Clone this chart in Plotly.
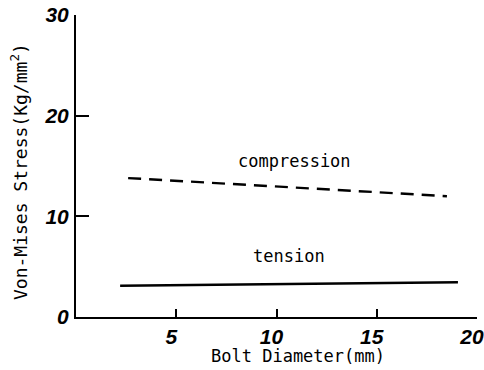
import plotly.graph_objects as go

# Data
diam_compression = [2.6, 18.5]
stress_compression = [13.8, 12.0]
diam_tension = [2.2, 19.05]
stress_tension = [3.1, 3.45]

x_ticks = [5, 10, 15, 20]
y_ticks = [0, 10, 20, 30]

label_comp = ("compression", 10.9, 15.5)
label_tens = ("tension", 10.6, 6.1)

mono = "DejaVu Sans Mono"

fig = go.Figure()
fig.add_trace(go.Scatter(x=diam_compression, y=stress_compression, mode="lines",
                         line=dict(color="black", width=2.4, dash="13px,8px"),
                         showlegend=False, hoverinfo="skip"))
fig.add_trace(go.Scatter(x=diam_tension, y=stress_tension, mode="lines",
                         line=dict(color="black", width=2.4),
                         showlegend=False, hoverinfo="skip"))

for txt, xv, yv in (label_comp, label_tens):
    fig.add_annotation(x=xv, y=yv, text=txt, showarrow=False,
                       font=dict(family=mono, size=17, color="black"))

fig.add_annotation(xref="paper", yref="paper", x=0.554, y=0, yshift=-39,
                   text="Bolt Diameter(mm)", showarrow=False, yanchor="middle",
                   font=dict(family=mono, size=17, color="black"))
fig.add_annotation(xref="paper", yref="paper", x=0, xshift=-57, y=0.48,
                   text="Von-Mises Stress(Kg/mm<sup>2</sup>)", showarrow=False,
                   textangle=-90, xanchor="center",
                   font=dict(family=mono, size=18, color="black"))

tickfont = dict(family="Liberation Sans", size=21, color="black",
                style="italic", weight="bold")

fig.update_xaxes(range=[0, 20], tickvals=x_ticks, ticktext=[str(v) for v in x_ticks],
                 ticks="inside", ticklen=8, tickwidth=2, tickcolor="black",
                 showline=True, linecolor="black", linewidth=2,
                 showgrid=False, zeroline=False, tickfont=tickfont,
                 ticklabelstandoff=0, ticklabelshift=-5, ticklabeloverflow="allow")
fig.update_yaxes(range=[0, 30], tickvals=y_ticks, ticktext=[str(v) for v in y_ticks],
                 ticks="inside", ticklen=13, tickwidth=2, tickcolor="black",
                 showline=True, linecolor="black", linewidth=2,
                 showgrid=False, zeroline=False, tickfont=tickfont,
                 ticklabelstandoff=1, ticklabeloverflow="allow")

fig.update_layout(width=484, height=370,
                  margin=dict(l=76, r=7, t=15, b=53, autoexpand=False),
                  plot_bgcolor="white", paper_bgcolor="white")

fig.write_html("out.html")
